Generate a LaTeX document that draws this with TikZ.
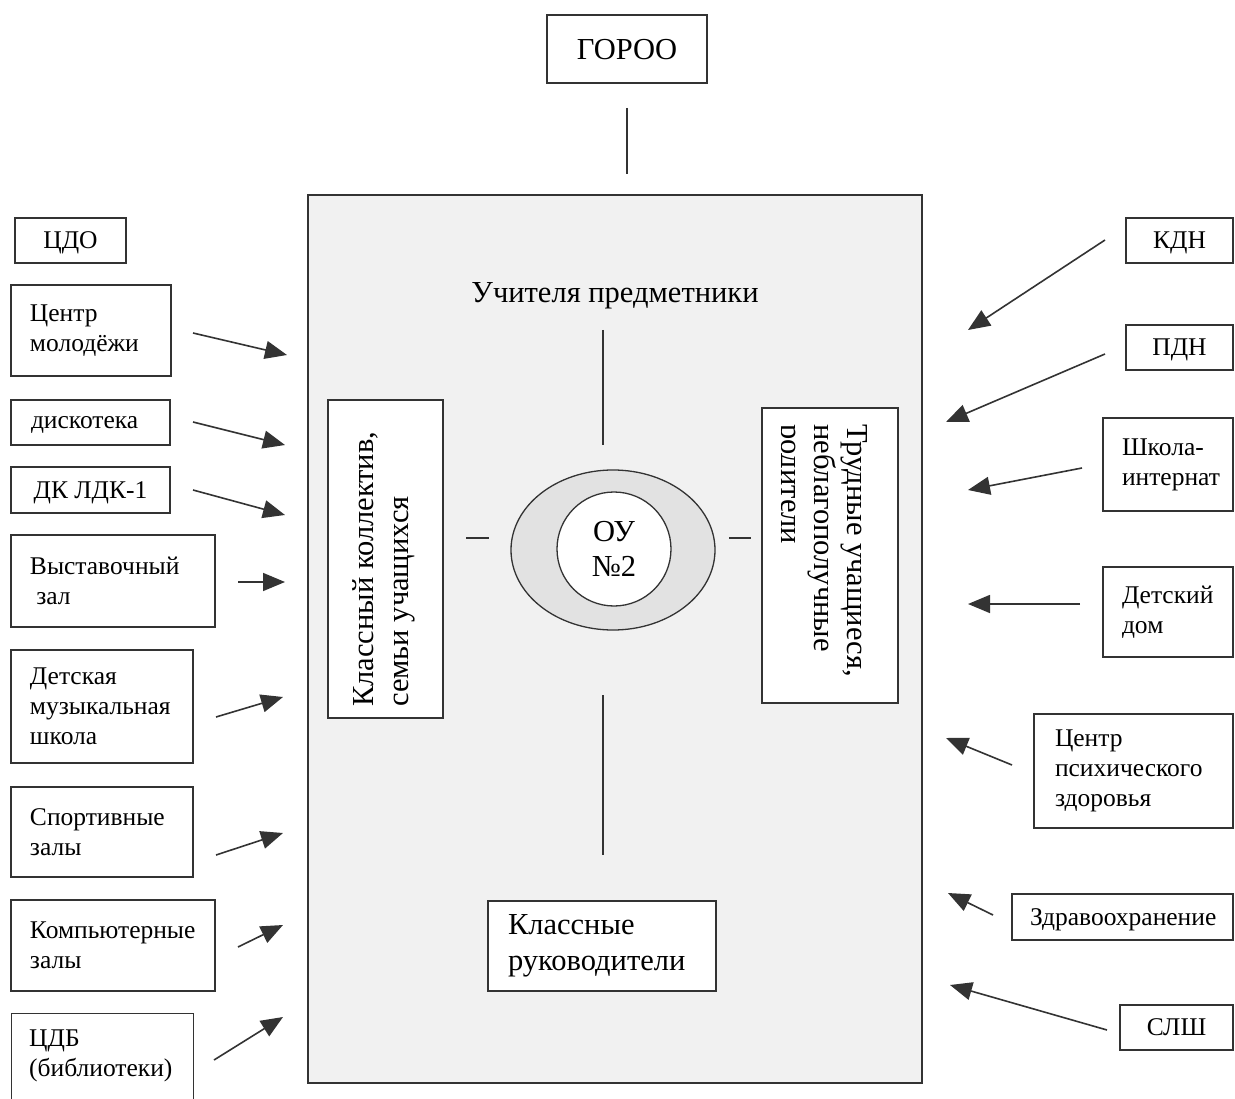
\documentclass[tikz,border=0pt]{standalone}
\usepackage{fontspec}
\setmainfont{Liberation Serif}
\usetikzlibrary{arrows.meta,shapes.geometric}
\definecolor{ink}{HTML}{333333}
\definecolor{panel}{HTML}{F1F1F1}
\definecolor{ring}{HTML}{E2E2E2}
\begin{document}
\begin{tikzpicture}[x=1pt,y=-1pt,
  box/.style={draw=ink, line width=1.3pt, fill=white, inner ysep=0pt, font=\fontsize{25.5}{30}\selectfont},
  cbox/.style 2 args={box, minimum width=#1, minimum height=#2, inner xsep=0pt, align=center, text depth=0pt},
  lbox/.style n args={3}{box, text width=#1-2*#3, inner xsep=#3, minimum height=#2, align=left},
  bigtxt/.style={font=\fontsize{30.5}{36}\selectfont},
  vtxt/.style={font=\fontsize{30.5}{35}\selectfont, inner sep=0pt, align=left},
  vtxtr/.style={font=\fontsize{30.5}{33}\selectfont, inner sep=0pt, align=left},
  plain/.style={draw=ink, line width=1.5pt},
  arr/.style={draw=ink, line width=1.6pt, -{Triangle[length=22pt,width=18pt]}}
]
\useasboundingbox (0,0) rectangle (1235,1099);

% top
\node[cbox={160}{68}, bigtxt] (goroo) at (627,49) {ГОРОО};
\coordinate (g1) at (627,108);
\coordinate (g2) at (627,174);
\draw[plain] (g1) -- (g2);

% main panel
\node[draw=ink, line width=1.3pt, fill=panel, minimum width=614, minimum height=888, inner sep=0pt] (main) at (615,639) {};
\node[bigtxt, inner sep=0pt] (teach) at (615,296) {Учителя предметники};

\coordinate (v1) at (603,330); \coordinate (v2) at (603,445);
\coordinate (v3) at (603,695); \coordinate (v4) at (603,855);
\coordinate (h1) at (466,538); \coordinate (h2) at (489,538);
\coordinate (h3) at (729,538); \coordinate (h4) at (751,538);
\draw[plain] (v1) -- (v2);
\draw[plain] (v3) -- (v4);
\draw[plain] (h1) -- (h2);
\draw[plain] (h3) -- (h4);

\node[draw=ink, line width=1.3pt, fill=ring, ellipse, minimum width=204, minimum height=160, inner sep=0pt] (ring) at (613,550) {};
\node[draw=ink, line width=1.3pt, fill=white, circle, minimum size=114, inner sep=0pt, align=center, font=\fontsize{30.5}{35}\selectfont] (ou) at (614,549) {ОУ\\№2};

% vertical boxes
\node[draw=ink, line width=1.3pt, fill=white, minimum width=115, minimum height=318, inner sep=0pt] (lb) at (385.5,559) {};
\node[vtxt, rotate=90, anchor=north west] (lbt) at (352,707) {Классный коллектив,\\семьи учащихся};

\node[draw=ink, line width=1.3pt, fill=white, minimum width=136, minimum height=295, inner sep=0pt] (rb) at (830,555.5) {};
\begin{scope}
\clip (781,409) rectangle (897,702);
\node[vtxtr, rotate=-90, anchor=north west] (rbt) at (868,424) {Трудные учащиеся,\\неблагополучные\\родители};
\end{scope}

\node[lbox={228}{90}{20}, bigtxt] (kr) at (602,946) {Классные\\руководители};

% left boxes
\node[cbox={111}{45}] (cdo) at (70.5,240.5) {ЦДО};
\node[lbox={160}{91}{19}] (cm) at (91,330.5) {Центр\\молодёжи};
\node[lbox={159}{45}{20}, text depth=0pt] (disc) at (90.5,422.5) {дискотека};
\node[cbox={159}{46}] (dk) at (90.5,490) {ДК ЛДК-1};
\node[lbox={204}{92}{19}] (vz) at (113,581) {Выставочный\\\hspace{0.25em}зал};
\node[lbox={182}{113}{19}] (dms) at (102,706.5) {Детская\\музыкальная\\школа};
\node[lbox={182}{90}{19}] (sz) at (102,832) {Спортивные\\залы};
\node[lbox={204}{91}{19}] (kz) at (113,945.5) {Компьютерные\\залы};
\node[box, minimum width=182, minimum height=130, anchor=north west, inner sep=0pt] (cdb) at (11,1013) {};
\node[font=\fontsize{25.5}{30}\selectfont, align=left, anchor=north west, inner sep=0pt] (cdbt) at (29,1030) {ЦДБ\\(библиотеки)};

% right boxes
\node[cbox={107}{45}] (kdn) at (1179.5,240.5) {КДН};
\node[cbox={107}{45}] (pdn) at (1179.5,347.5) {ПДН};
\node[lbox={130}{93}{19}] (shi) at (1168,464.5) {Школа-\\интернат};
\node[lbox={130}{90}{19}] (dd) at (1168,612) {Детский\\дом};
\node[lbox={199}{114}{21}] (cpz) at (1133.5,771) {Центр\\психического\\здоровья};
\node[lbox={221}{46}{18}, text depth=0pt] (zdr) at (1122.5,917) {Здравоохранение};
\node[cbox={113}{45}] (slsh) at (1176.5,1027.5) {СЛШ};

% left arrows
\coordinate (la1) at (193,333); \coordinate (lb1) at (287,355);
\coordinate (la2) at (193,422); \coordinate (lb2) at (285,445);
\coordinate (la3) at (193,490); \coordinate (lb3) at (285,515);
\coordinate (la4) at (238,582); \coordinate (lb4) at (285,582);
\coordinate (la5) at (216,717); \coordinate (lb5) at (283,697);
\coordinate (la6) at (216,855); \coordinate (lb6) at (283,833);
\coordinate (la7) at (238,947); \coordinate (lb7) at (283,925);
\coordinate (la8) at (214,1060); \coordinate (lb8) at (283,1017);
\foreach \i in {1,...,8} \draw[arr] (la\i) -- (lb\i);

% right arrows
\coordinate (ra1) at (1105,240); \coordinate (rb1) at (968,330);
\coordinate (ra2) at (1105,354); \coordinate (rb2) at (946,422);
\coordinate (ra3) at (1082,468); \coordinate (rb3) at (968,490);
\coordinate (ra4) at (1080,604); \coordinate (rb4) at (968,604);
\coordinate (ra5) at (1012,765); \coordinate (rb5) at (946,738);
\coordinate (ra6) at (993,915); \coordinate (rb6) at (948,893);
\coordinate (ra7) at (1107,1030); \coordinate (rb7) at (950,985);
\foreach \i in {1,...,7} \draw[arr] (ra\i) -- (rb\i);
\end{tikzpicture}
\end{document}
